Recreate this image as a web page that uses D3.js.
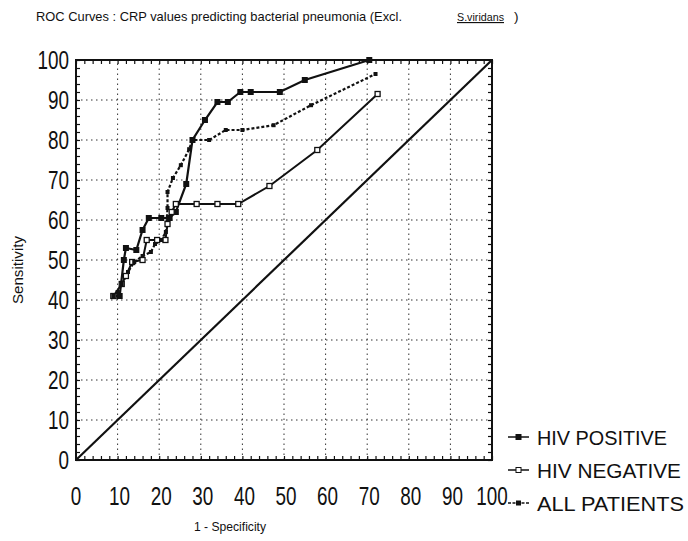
<!DOCTYPE html>
<html>
<head>
<meta charset="utf-8">
<script src="https://cdn.jsdelivr.net/npm/d3@7"></script>
<style>
  body { margin: 0; background: #fff; }
  svg { display: block; }
  text { font-family: 'Liberation Sans', Arial, sans-serif; fill: #111; }
</style>
</head>
<body>
<svg id="chart" width="688" height="541"></svg>
<script>
// values (x = 1 - specificity, y = sensitivity, %)
const hivPositive = [
  [9, 41], [10.5, 41], [11.5, 50], [12, 53], [14.5, 52.5], [16, 57.5], [17.5, 60.5],
  [20.5, 60.5], [22.5, 60.5], [24, 62], [26.5, 69], [28, 80], [31, 85], [34, 89.5],
  [36.5, 89.5], [39.5, 92], [42, 92], [49, 92], [55, 95], [70.5, 100]
]
const hivNegative = [
  [9, 41], [11, 44], [12, 46], [13.5, 49.5], [16, 50], [17, 55], [19.5, 55], [21.5, 55],
  [22, 59], [23, 62], [24, 64], [29, 64], [34, 64], [39, 64], [46.5, 68.5], [58, 77.5], [72.5, 91.5]
]
const allPatients = [
  [9, 41], [10, 42], [11, 44], [12.5, 47], [14, 49.5], [16, 51], [18, 52], [19, 54],
  [20.5, 55], [21.6, 57], [22, 63], [22, 67], [23.3, 70.5], [25.2, 73.7], [27.2, 77.7],
  [28, 80], [32, 80], [36, 82.5], [40, 82.5], [47.5, 83.7], [56.5, 88.7], [72, 96.5]
]
const chanceLine = [[0, 0], [100, 100]]
const seriesNames = ['HIV POSITIVE', 'HIV NEGATIVE', 'ALL PATIENTS']
const tickValues = [0, 10, 20, 30, 40, 50, 60, 70, 80, 90, 100]

const svg = d3.select('#chart')
const ink = '#111'

const x = d3.scaleLinear().domain([0, 100]).range([76, 492])
const y = d3.scaleLinear().domain([0, 100]).range([460, 60])

// squeeze Liberation Sans into the narrow face of the scan
const narrow = (sel, w) => sel.attr('textLength', w).attr('lengthAdjust', 'spacingAndGlyphs')

// title
svg.append('text').attr('x', 36).attr('y', 21).attr('font-size', 13.5)
  .text('ROC Curves : CRP values predicting bacterial pneumonia (Excl.')
  .call(narrow, 366)
svg.append('text').attr('x', 457).attr('y', 21).attr('font-size', 11.5)
  .attr('text-decoration', 'underline').text('S.viridans').call(narrow, 47)
svg.append('text').attr('x', 514).attr('y', 21).attr('font-size', 13.5).text(')')

// dotted grid
const grid = svg.append('g')
  .attr('stroke', '#333').attr('stroke-width', 1).attr('stroke-dasharray', '1.5,3.5')
grid.selectAll('line.v').data(tickValues.slice(1, -1)).join('line')
  .attr('x1', d => x(d)).attr('x2', d => x(d)).attr('y1', y(0)).attr('y2', y(100))
grid.selectAll('line.h').data(tickValues.slice(1, -1)).join('line')
  .attr('x1', x(0)).attr('x2', x(100)).attr('y1', d => y(d)).attr('y2', d => y(d))

// axes with inward minor ticks on all sides
const minor = d3.range(0, 101, 2)
const axisStyle = g => {
  g.select('.domain').remove()
  g.selectAll('line').attr('stroke', ink).attr('stroke-width', 1.2)
}
svg.append('g').attr('transform', `translate(0,${y(0)})`)
  .call(d3.axisBottom(x).tickValues(minor).tickSize(-4).tickFormat(''))
  .call(axisStyle)
svg.append('g').attr('transform', `translate(0,${y(100)})`)
  .call(d3.axisTop(x).tickValues(minor).tickSize(-4).tickFormat(''))
  .call(axisStyle)
svg.append('g').attr('transform', `translate(${x(0)},0)`)
  .call(d3.axisLeft(y).tickValues(minor).tickSize(-4).tickFormat(''))
  .call(axisStyle)
svg.append('g').attr('transform', `translate(${x(100)},0)`)
  .call(d3.axisRight(y).tickValues(minor).tickSize(-4).tickFormat(''))
  .call(axisStyle)

// tick labels
const digitW = 10.5
svg.append('g').selectAll('text').data(tickValues).join('text')
  .attr('x', d => x(d) + (d === 0 || d === 100 ? 0 : 2)).attr('y', y(0) + 45)
  .attr('text-anchor', 'middle').attr('font-size', 26).text(d => d)
  .each(function (d) { d3.select(this).call(narrow, String(d).length * digitW) })
svg.append('g').selectAll('text').data(tickValues).join('text')
  .attr('x', x(0) - 7).attr('y', d => y(d) + 9)
  .attr('text-anchor', 'end').attr('font-size', 26).text(d => d)
  .each(function (d) { d3.select(this).call(narrow, String(d).length * digitW) })

// frame
svg.append('rect').attr('x', x(0)).attr('y', y(100))
  .attr('width', x(100) - x(0)).attr('height', y(0) - y(100))
  .attr('fill', 'none').attr('stroke', ink).attr('stroke-width', 2)

// axis titles
svg.append('text').attr('transform', `translate(23,${(y(0) + y(100)) / 2 + 10}) rotate(-90)`)
  .attr('text-anchor', 'middle').attr('font-size', 15).text('Sensitivity').call(narrow, 68)
svg.append('text').attr('x', 230).attr('y', 531).attr('text-anchor', 'middle')
  .attr('font-size', 13).text('1 - Specificity').call(narrow, 72)

// curves
const line = d3.line().x(d => x(d[0])).y(d => y(d[1]))
const plot = svg.append('g').attr('fill', 'none').attr('stroke', ink)

plot.append('path').datum(chanceLine).attr('d', line).attr('stroke-width', 2.2)
plot.append('path').datum(hivNegative).attr('d', line).attr('stroke-width', 2)
plot.append('path').datum(allPatients).attr('d', line).attr('stroke-width', 2.2)
  .attr('stroke-dasharray', '3,2')
plot.append('path').datum(hivPositive).attr('d', line).attr('stroke-width', 2.2)

const markers = svg.append('g')
markers.selectAll('rect.pos').data(hivPositive).join('rect')
  .attr('x', d => x(d[0]) - 3).attr('y', d => y(d[1]) - 3).attr('width', 6).attr('height', 6)
  .attr('fill', ink)
markers.selectAll('rect.neg').data(hivNegative).join('rect')
  .attr('x', d => x(d[0]) - 2.5).attr('y', d => y(d[1]) - 2.5).attr('width', 5).attr('height', 5)
  .attr('fill', '#fff').attr('stroke', ink).attr('stroke-width', 1.3)
markers.selectAll('rect.all').data(allPatients).join('rect')
  .attr('x', d => x(d[0]) - 2).attr('y', d => y(d[1]) - 2).attr('width', 4).attr('height', 4)
  .attr('fill', ink)

// legend
const legend = svg.append('g').attr('transform', 'translate(508,437)')
const rows = legend.selectAll('g').data(seriesNames).join('g')
  .attr('transform', (d, i) => `translate(0,${i * 33})`)
rows.append('line').attr('x1', 0).attr('x2', 21).attr('stroke', ink).attr('stroke-width', 1.5)
  .attr('stroke-dasharray', (d, i) => i === 2 ? '3,1.5' : null)
rows.append('rect').attr('x', (d, i) => i === 2 ? 8.5 : 8).attr('y', (d, i) => i === 2 ? -2 : -2.5)
  .attr('width', (d, i) => i === 2 ? 4 : 5).attr('height', (d, i) => i === 2 ? 4 : 5)
  .attr('fill', (d, i) => i === 1 ? '#fff' : ink).attr('stroke', ink).attr('stroke-width', 1)
rows.append('text').attr('x', 29).attr('y', 8).attr('font-size', 21).text(d => d)
  .each(function (d, i) { d3.select(this).call(narrow, [130, 144, 147][i]) })
</script>
</body>
</html>
